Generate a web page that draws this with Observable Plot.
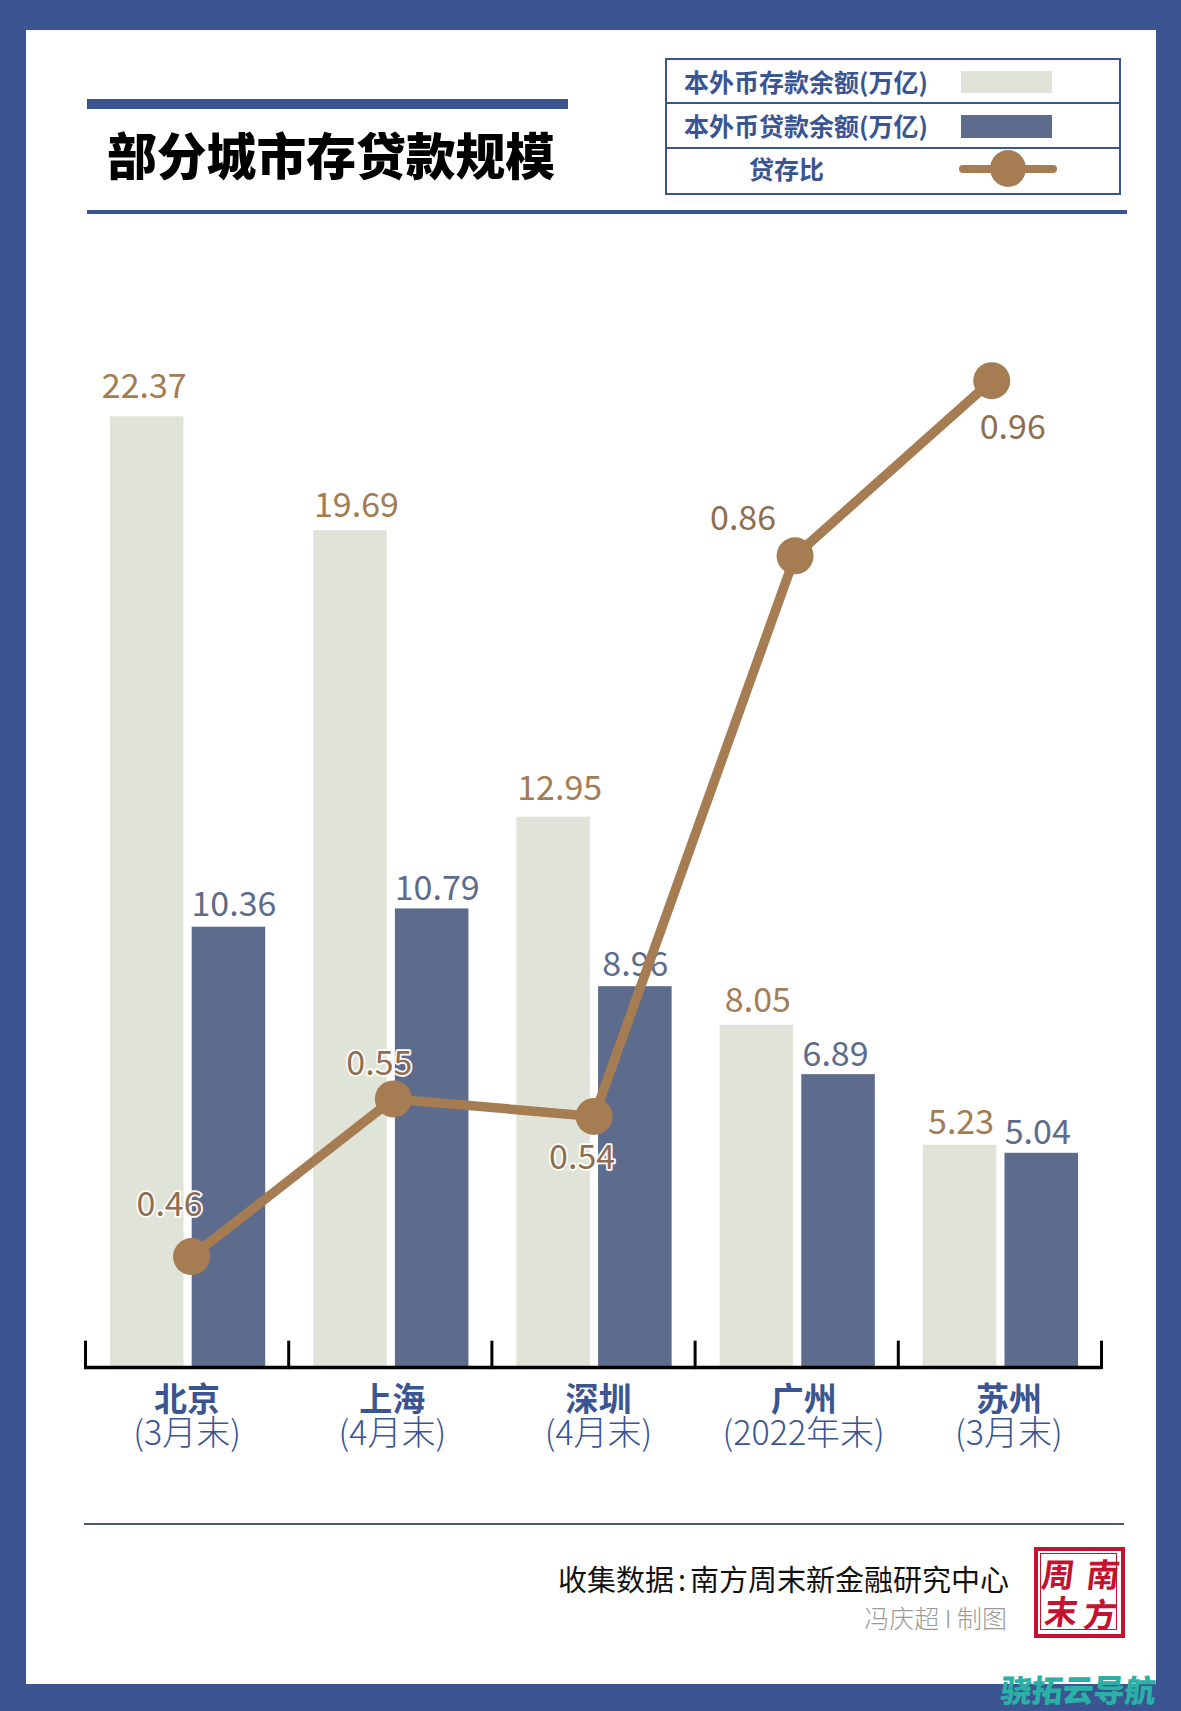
<!DOCTYPE html>
<html><head><meta charset="utf-8">
<script src="https://cdn.jsdelivr.net/npm/d3@7"></script>
<script src="https://cdn.jsdelivr.net/npm/@observablehq/plot@0.6"></script>
<style>
html,body{margin:0;padding:0;background:#3a5592}
#page{position:relative;width:1181px;height:1711px;background:#3a5592;overflow:hidden;font-family:"Noto Sans CJK SC","Noto Sans",sans-serif}
#panel{position:absolute;left:26px;top:30px;width:1130px;height:1654px;background:#fff}
.abs{position:absolute;white-space:nowrap}
#chart{position:absolute;left:0;top:260px}
#chart svg{display:block;font-family:"Noto Sans CJK SC","Noto Sans",sans-serif;background:transparent}
.leg{color:#3a5592;font-size:25px;font-weight:700;line-height:30px}
.stamp{font-size:33px;line-height:36px;font-weight:700;color:#c41230;transform:skewX(-7deg)}
</style></head><body>
<div id="page">
 <div id="panel"></div>
 <div class="abs" style="left:87px;top:99px;width:481px;height:10px;background:#3a5592"></div>
 <div class="abs" id="title" style="left:107px;top:117px;font-size:49.8px;font-weight:900;line-height:72px;color:#000">部分城市存贷款规模</div>
 <div class="abs" style="left:87px;top:210px;width:1040px;height:4px;background:#3a5592"></div>

 <div class="abs" style="left:665px;top:58px;width:452px;height:133px;border:2px solid #3a5592"></div>
 <div class="abs" style="left:665px;top:102px;width:454px;height:2px;background:#3a5592"></div>
 <div class="abs" style="left:665px;top:147px;width:454px;height:2px;background:#3a5592"></div>
 <div class="abs leg" style="left:684px;top:66px">本外币存款余额(万亿)</div>
 <div class="abs leg" style="left:684px;top:110px">本外币贷款余额(万亿)</div>
 <div class="abs leg" style="left:749px;top:153px">贷存比</div>
 <div class="abs" style="left:961px;top:71px;width:91px;height:22px;background:#e0e4d8"></div>
 <div class="abs" style="left:961px;top:115px;width:91px;height:23px;background:#5d6c8c"></div>
 <div class="abs" style="left:959px;top:165px;width:98px;height:8px;border-radius:4px;background:#a67c52"></div>
 <div class="abs" style="left:990px;top:150px;width:36px;height:37px;border-radius:50%;background:#a67c52"></div>

 <div id="chart"></div>

 <div class="abs" style="left:84px;top:1523px;width:1040px;height:2px;background:#4a5a70"></div>
 <div class="abs" style="right:172px;top:1558px;font-size:29px;line-height:40px;color:#111">收集数据<span style="margin:0 4px">:</span>南方周末新金融研究中心</div>
 <div class="abs" style="right:174px;top:1599px;font-size:25px;line-height:36px;font-weight:300;color:#9a9a9a">冯庆超 I 制图</div>

 <div class="abs" style="left:1034px;top:1547px;width:83px;height:83px;border:4px solid #c41230"></div>
 <div class="abs" style="left:1040px;top:1553px;width:77px;height:77px;border:1.5px solid #c41230;box-sizing:border-box"></div>
 <div class="abs stamp" style="left:1087px;top:1555px">南</div>
 <div class="abs stamp" style="left:1084px;top:1595px">方</div>
 <div class="abs stamp" style="left:1042px;top:1555px">周</div>
 <div class="abs stamp" style="left:1045px;top:1592px">末</div>

 <div class="abs" style="left:1001px;top:1670px;font-size:31px;line-height:38px;font-weight:900;color:#2ab0a5;transform:skewX(-5deg)">骁拓云导航</div>
</div>
<script>
// ---- data ----
const cities   = ["北京", "上海", "深圳", "广州", "苏州"];
const periods  = ["(3月末)", "(4月末)", "(4月末)", "(2022年末)", "(3月末)"];
const deposits = [22.37, 19.69, 12.95, 8.05, 5.23];
const loans    = [10.36, 10.79, 8.96, 6.89, 5.04];
const ratios   = [0.46, 0.55, 0.54, 0.86, 0.96];

// ---- layout of the marks ----
const bar = {light: [0.123, 0.485], dark: [0.525, 0.887]};
const lineNudge = [0.022, 0.015, 0.003, -0.008, -0.04];
const depLabel  = [[-3,-30],[6,-25],[6,-28],[1,-24],[1,-22]];
const loanLabel = [[5,-22],[5,-20],[0,-22],[-3,-20],[-4,-20]];
const ratioLabel= [[-22,-51],[-14,-35],[-12,42],[-52,-37],[21,47]];
const cityDx    = [0,2,5,7,9];

const rows = cities.map((city,i)=>({city,period:periods[i],i,deposit:deposits[i],loan:loans[i],ratio:ratios[i]}));
// right-hand (ratio) axis expressed on the amount scale
const ratioToY = d3.scaleLinear([0.46,0.96],[2.61,23.22]);
const ratioPts = rows.map(d=>({...d,xp:d.i+0.5+lineNudge[d.i],yp:ratioToY(d.ratio)}));

const BROWN="#a67c52", LABEL_BROWN="#a37c52", LABEL_RATIO="#8f6e50", LABEL_BLUE="#5d6c8c", NAVY="#3a5592";
const numFont={fontSize:34,fontWeight:400};

const marks=[
  Plot.rectY(rows,{x1:d=>d.i+bar.light[0],x2:d=>d.i+bar.light[1],y1:0,y2:"deposit",fill:"#e0e4d8"}),
  Plot.rectY(rows,{x1:d=>d.i+bar.dark[0],x2:d=>d.i+bar.dark[1],y1:0,y2:"loan",fill:"#5d6c8c"}),
  Plot.ruleX([0,1,2,3,4,5],{y1:-0.05,y2:0.62,stroke:"#000",strokeWidth:3}),
  Plot.ruleY([0],{x1:0,x2:5,stroke:"#000",strokeWidth:3.5}),
  ...rows.map(d=>Plot.text([d],{x:d.i+(bar.light[0]+bar.light[1])/2,y:"deposit",text:x=>x.deposit.toFixed(2),dx:depLabel[d.i][0],dy:depLabel[d.i][1],fill:LABEL_BROWN,...numFont})),
  ...rows.map(d=>Plot.text([d],{x:d.i+(bar.dark[0]+bar.dark[1])/2,y:"loan",text:x=>x.loan.toFixed(2),dx:loanLabel[d.i][0],dy:loanLabel[d.i][1],fill:LABEL_BLUE,...numFont})),
  Plot.line(ratioPts,{x:"xp",y:"yp",stroke:BROWN,strokeWidth:9.5,curve:"linear"}),
  Plot.dot(ratioPts,{x:"xp",y:"yp",r:18.5,fill:BROWN,stroke:"none"}),
  ...ratioPts.map(d=>Plot.text([d],{x:"xp",y:"yp",text:x=>x.ratio.toFixed(2),dx:ratioLabel[d.i][0],dy:ratioLabel[d.i][1],fill:LABEL_RATIO,stroke:"#fff",strokeWidth:3.5,...numFont})),
  ...rows.map(d=>Plot.text([d],{x:d.i+0.5,y:0,text:"city",dx:cityDx[d.i],dy:33,fill:NAVY,fontSize:33,fontWeight:700})),
  ...rows.map(d=>Plot.text([d],{x:d.i+0.5,y:0,text:"period",dx:cityDx[d.i],dy:66.5,fill:NAVY,fontSize:34,fontWeight:300})),
];

const plot=Plot.plot({
  width:1181,height:1200,
  marginLeft:85,marginRight:80,marginTop:44.5,marginBottom:93,
  x:{domain:[0,5],axis:null},
  y:{domain:[0,25],axis:null},
  style:{background:"transparent",overflow:"visible"},
  marks
});
document.getElementById("chart").appendChild(plot);
</script>
</body></html>
